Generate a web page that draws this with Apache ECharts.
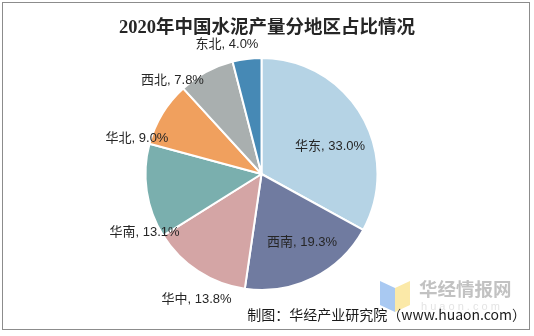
<!DOCTYPE html>
<html>
<head>
<meta charset="utf-8">
<script src="https://cdn.jsdelivr.net/npm/echarts@6/dist/echarts.min.js"></script>
<style>
  html, body { margin: 0; padding: 0; background: #fff; }
  #frame { position: absolute; left: 2px; top: 2px; width: 526px; height: 326px; border: 1px solid #8c8c8c; }
  #chart { position: absolute; left: 0; top: 0; width: 534px; height: 336px; }
</style>
</head>
<body>
<div id="frame"></div>
<div id="chart"></div>
<script>
// Regional share of cement output, 2020 (%)
const regions = ['华东', '西南', '华中', '华南', '华北', '西北', '东北'];
const shares  = [33.0, 19.3, 13.8, 13.1, 9.0, 7.8, 4.0];
const sliceColors = ['#b5d3e5', '#707ba0', '#d4a5a5', '#7aafae', '#f0a05e', '#a9afaf', '#4689b5'];

// label anchor (text centre) for each region
const labelAnchors = {
  '华东': [330, 146.5],
  '西南': [302, 242.5],
  '华中': [196.5, 299],
  '华南': [144.5, 232.5],
  '华北': [137, 138.5],
  '西北': [172.5, 80.5],
  '东北': [227, 44]
};

const chart = echarts.init(document.getElementById('chart'));

const data = regions.map((name, i) => ({
  name,
  value: shares[i],
  itemStyle: { color: sliceColors[i] }
}));

chart.setOption({
  animation: false,
  title: {
    text: '2020年中国水泥产量分地区占比情况',
    left: 'center',
    top: 14,
    textStyle: {
      fontFamily: '"Liberation Serif", "Noto Sans CJK SC", serif',
      fontSize: 18.5,
      fontWeight: 'bold',
      color: '#262626'
    }
  },
  graphic: [
    // watermark logo
    { type: 'polygon', shape: { points: [[380, 281], [395, 288], [395, 312], [380, 305]] }, style: { fill: '#a9c9f2' } },
    { type: 'polygon', shape: { points: [[395, 288], [410, 281], [410, 305], [395, 312]] }, style: { fill: '#fbe9a8' } },
    { type: 'text', left: 419, top: 280, style: { text: '华经情报网', font: 'bold 18.5px "Noto Sans CJK SC"', fill: '#c2c2c2' } },
    { type: 'text', left: 421, top: 301, style: { text: 'h u a o n . c o m', font: '11px "Liberation Sans"', fill: '#e4e4e4' } },
    { type: 'text', right: 8, top: 308, style: { text: '制图：华经产业研究院（www.huaon.com）', font: '14px "Noto Sans CJK SC"', fill: '#1a1a1a' } }
  ],
  series: [{
    type: 'pie',
    center: [261.5, 174],
    radius: 116,
    startAngle: 90,
    clockwise: true,
    data,
    itemStyle: { borderColor: '#ffffff', borderWidth: 2 },
    label: {
      position: 'outside',
      formatter: p => p.name + ', ' + p.value.toFixed(1) + '%',
      fontFamily: '"Liberation Sans", "Noto Sans CJK SC", sans-serif',
      fontSize: 13,
      color: '#262626'
    },
    labelLine: { show: false },
    labelLayout: params => {
      const a = labelAnchors[regions[params.dataIndex]];
      return { x: a[0], y: a[1], align: 'center', verticalAlign: 'middle', hideOverlap: false };
    }
  }]
});
</script>
</body>
</html>
